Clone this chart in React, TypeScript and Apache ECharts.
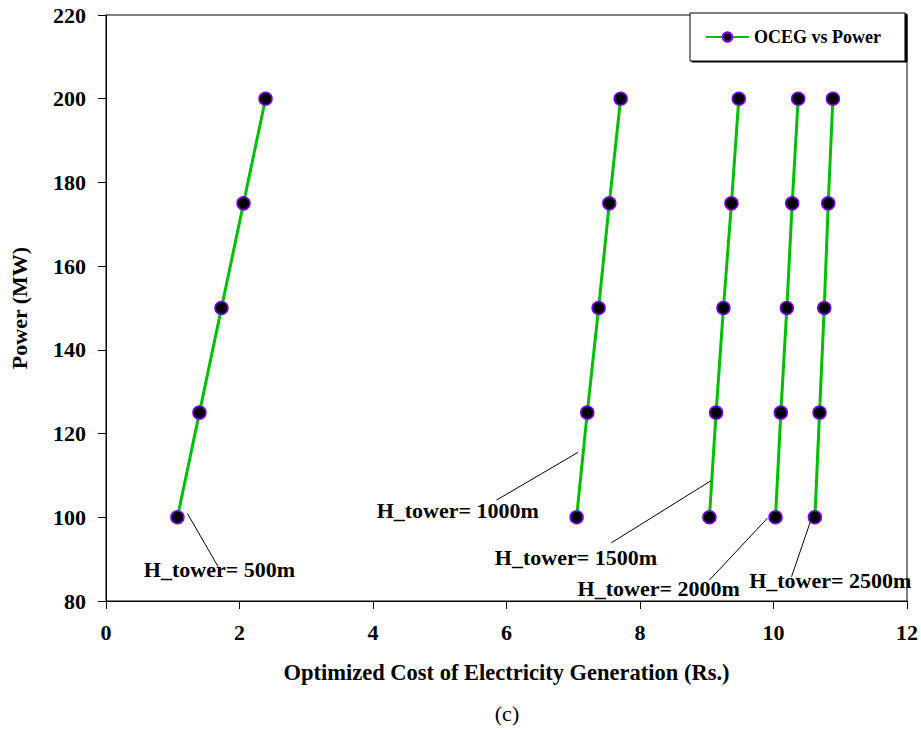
import React, { useEffect, useRef } from 'react';
import * as echarts from 'echarts';

const powerLevels = [100, 125, 150, 175, 200];
const towerNames = ['H_tower= 500m', 'H_tower= 1000m', 'H_tower= 1500m', 'H_tower= 2000m', 'H_tower= 2500m'];
const cost500 = [1.07, 1.4, 1.73, 2.06, 2.39];
const cost1000 = [7.05, 7.21, 7.38, 7.54, 7.71];
const cost1500 = [9.04, 9.14, 9.25, 9.37, 9.48];
const cost2000 = [10.03, 10.11, 10.2, 10.28, 10.37];
const cost2500 = [10.62, 10.69, 10.76, 10.82, 10.89];
const costSeries = [cost500, cost1000, cost1500, cost2000, cost2500];

// annotation leader lines and label anchors, in data coordinates
const leaderStart = [[1.22, 100.9], [7.07, 115.5], [9.06, 108.7], [9.91, 99.8], [10.56, 99.3]];
const leaderEnd = [[1.68, 88.2], [5.85, 104.1], [7.57, 93.9], [9.04, 85.0], [10.27, 85.8]];
const labelPos = [[1.7, 87.6], [5.27, 101.7], [7.04, 90.5], [8.28, 83.1], [10.85, 84.8]];

const FONT = "'Liberation Serif', 'Times New Roman', serif";

export default function App() {
  const ref = useRef<HTMLDivElement>(null);
  useEffect(() => {
    document.body.style.margin = '0';
    if (!ref.current) return;
    const chart = echarts.init(ref.current, undefined, { renderer: 'svg' });
    const series = costSeries.map((costs, i) => ({
      name: 'OCEG vs Power',
      type: 'line',
      data: costs.map((c, j) => [c, powerLevels[j]]),
      symbol: 'circle',
      symbolSize: 13,
      lineStyle: { color: '#00c000', width: 3 },
      itemStyle: { color: '#000000', borderColor: '#8000ff', borderWidth: 1.5 },
      z: 3,
      markLine: {
        silent: true,
        symbol: ['none', 'none'],
        lineStyle: { color: '#000000', width: 1, type: 'solid' },
        label: { show: false },
        data: [[{ coord: leaderStart[i] }, { coord: leaderEnd[i] }]],
      },
      markPoint: {
        silent: true,
        symbol: 'circle',
        symbolSize: 0,
        label: {
          show: true,
          position: 'inside',
          formatter: towerNames[i],
          color: '#000',
          fontFamily: FONT,
          fontWeight: 'bold',
          fontSize: 22,
        },
        data: [{ coord: labelPos[i] }],
      },
    }));
    chart.setOption({
      animation: false,
      backgroundColor: '#ffffff',
      textStyle: { fontFamily: FONT },
      grid: {
        left: 106, top: 15, width: 802, height: 586,
        show: true, borderColor: '#000', borderWidth: 1, backgroundColor: 'transparent',
      },
      legend: {
        left: 690, top: 13,
        padding: [15, 24, 15, 15],
        itemWidth: 43, itemHeight: 12, itemGap: 10,
        backgroundColor: '#fff', borderColor: '#000', borderWidth: 1,
        shadowColor: '#000', shadowOffsetX: 2, shadowOffsetY: 1, shadowBlur: 0,
        textStyle: { color: '#000', fontFamily: FONT, fontWeight: 'bold', fontSize: 18 },
        data: ['OCEG vs Power'],
      },
      xAxis: {
        type: 'value', min: 0, max: 12, interval: 2,
        name: 'Optimized Cost of Electricity Generation (Rs.)',
        nameLocation: 'middle', nameGap: 60,
        nameTextStyle: { color: '#000', fontFamily: FONT, fontWeight: 'bold', fontSize: 22.5 },
        axisLine: { show: true, lineStyle: { color: '#000', width: 1 } },
        axisTick: { show: true, inside: false, length: 8, lineStyle: { color: '#000' } },
        axisLabel: { color: '#000', fontFamily: FONT, fontWeight: 'bold', fontSize: 22, margin: 20 },
        splitLine: { show: false },
      },
      yAxis: {
        type: 'value', min: 80, max: 220, interval: 20,
        name: 'Power (MW)',
        nameLocation: 'middle', nameGap: 76,
        nameTextStyle: { color: '#000', fontFamily: FONT, fontWeight: 'bold', fontSize: 22 },
        axisLine: { show: true, lineStyle: { color: '#000', width: 1 } },
        axisTick: { show: true, inside: false, length: 8, lineStyle: { color: '#000' } },
        axisLabel: { color: '#000', fontFamily: FONT, fontWeight: 'bold', fontSize: 22, margin: 20 },
        splitLine: { show: false },
      },
      graphic: [
        {
          type: 'text', x: 507, y: 713,
          style: { text: '(c)', fill: '#000', font: `22px ${FONT}`, textAlign: 'center', textVerticalAlign: 'middle' },
        },
      ],
      series,
    });
    return () => chart.dispose();
  }, []);
  return <div ref={ref} style={{ width: 921, height: 731 }} />;
}
